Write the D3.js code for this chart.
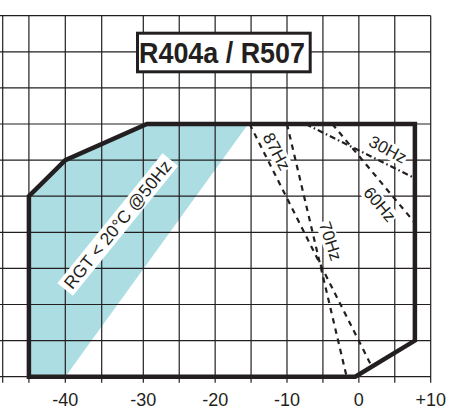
<!DOCTYPE html>
<html>
<head>
<meta charset="utf-8">
<script src="https://cdn.jsdelivr.net/npm/d3@7"></script>
<style>
body { margin: 0; background: #fff; }
svg { display: block; }
</style>
</head>
<body>
<script>
//Width and height
const w = 451;
const h = 411;

// evaporating temp (x) / condensing temp (y), degC
const envelopeEvap = [-45, -45, -40, -29.5, 7.8, 7.8, -0.5];
const envelopeCond = [20, 45, 50, 55, 55, 25, 20];

// shaded area RGT < 20C @50Hz
const rgtEvap = [-45, -45, -40, -29.5, -15.4, -40];
const rgtCond = [20, 45, 50, 55, 55, 20];

// frequency limit lines
const hzNames = ["87Hz", "70Hz", "60Hz", "30Hz"];
const hzEvap = [[-15.2, 1.8], [-10, -1.7], [-3.7, 7.8], [-7.4, 7.8]];
const hzCond = [[55, 21.4], [55, 20], [55, 41.3], [55, 47.5]];

const xTicks = [-40, -30, -20, -10, 0, 10];
const xTickLabels = ["-40", "-30", "-20", "-10", "0", "+10"];
const gridEvap = d3.range(-45, 11, 5);
const gridCond = d3.range(20, 71, 5);

const font = "'Liberation Sans', Arial, Helvetica, sans-serif";
const ink = "#231f20";

// the printed grid is a bit uneven, so the x scale is piecewise
const xMin = -48.6;
const xScale = d3.scaleLinear()
    .domain([xMin, -35, -30, 10])
    .range([2.7, 101.7, 143.3, 430.7]);

const yScale = d3.scaleLinear()
    .domain([20, 70])
    .range([376.7, 15.7]);

const svg = d3.select("body")
    .append("svg")
    .attr("width", w)
    .attr("height", h);

svg.append("rect").attr("width", w).attr("height", h).attr("fill", "#fff");

const line = d3.line()
    .x(d => xScale(d[0]))
    .y(d => yScale(d[1]));

//Shaded area (under the grid)
svg.append("path")
    .attr("d", line(d3.zip(rgtEvap, rgtCond)) + "Z")
    .attr("fill", "#abdde3");

//Grid
const grid = svg.append("g")
    .attr("stroke", ink)
    .attr("stroke-width", 1.2);

grid.selectAll(".v")
    .data([xMin].concat(gridEvap))
    .join("line")
    .attr("class", "v")
    .attr("x1", d => xScale(d))
    .attr("x2", d => xScale(d))
    .attr("y1", yScale(70))
    .attr("y2", yScale(20) + 6);

grid.selectAll(".hl")
    .data(gridCond)
    .join("line")
    .attr("class", "hl")
    .attr("x1", xScale(xMin) - 6)
    .attr("x2", xScale(10))
    .attr("y1", d => yScale(d))
    .attr("y2", d => yScale(d));

//Tick labels
svg.append("g")
    .selectAll("text")
    .data(xTicks)
    .join("text")
    .attr("x", d => xScale(d))
    .attr("y", 406)
    .attr("text-anchor", "middle")
    .attr("font-family", font)
    .attr("font-size", "18px")
    .attr("fill", ink)
    .text((d, i) => xTickLabels[i]);

//Envelope
svg.append("path")
    .attr("d", line(d3.zip(envelopeEvap, envelopeCond)) + "Z")
    .attr("fill", "none")
    .attr("stroke", ink)
    .attr("stroke-width", 4.5)
    .attr("stroke-linejoin", "miter");

//Frequency lines
svg.append("g")
    .selectAll("path")
    .data(hzNames)
    .join("path")
    .attr("d", (d, i) => line(d3.zip(hzEvap[i], hzCond[i])))
    .attr("fill", "none")
    .attr("stroke", ink)
    .attr("stroke-width", 2.2)
    .attr("stroke-dasharray", d => d == "30Hz" ? "6,3,1.5,3" : "5.5,5");

// label placement: [evap, cond, angle]
const hzLabelAt = [[-11.4, 51.2, 62], [-3.9, 38.8, 72], [2.94, 43.9, 50], [4.06, 51.5, 28]];

function label(txt, at, size, padX, padY) {
    const g = svg.append("g")
        .attr("transform", "translate(" + xScale(at[0]) + "," + yScale(at[1]) + ") rotate(" + at[2] + ")");
    const bg = g.append("rect").attr("fill", "#fff");
    const t = g.append("text")
        .attr("text-anchor", "middle")
        .attr("dy", "0.36em")
        .attr("font-family", font)
        .attr("font-size", size + "px")
        .attr("fill", ink)
        .text(txt);
    const b = t.node().getBBox();
    bg.attr("x", b.x - padX)
      .attr("y", b.y - padY)
      .attr("width", b.width + 2 * padX)
      .attr("height", b.height + 2 * padY);
}

hzNames.forEach((d, i) => label(d, hzLabelAt[i], 17, 1, -1));

label("RGT < 20°C @50Hz", [-33.1, 41.1, -51], 17.5, 4, 0);

//Title box
svg.append("rect")
    .attr("x", 137.5)
    .attr("y", 33.2)
    .attr("width", 172.7)
    .attr("height", 38.6)
    .attr("fill", "#fff")
    .attr("stroke", ink)
    .attr("stroke-width", 3);

svg.append("text")
    .attr("x", 222)
    .attr("y", 63.3)
    .attr("text-anchor", "middle")
    .attr("font-family", "'Liberation Sans Narrow', 'Liberation Sans', Arial, sans-serif")
    .attr("font-weight", "bold")
    .attr("font-size", "30px")
    .attr("textLength", 166)
    .attr("lengthAdjust", "spacingAndGlyphs")
    .attr("fill", ink)
    .text("R404a / R507");
</script>
</body>
</html>
